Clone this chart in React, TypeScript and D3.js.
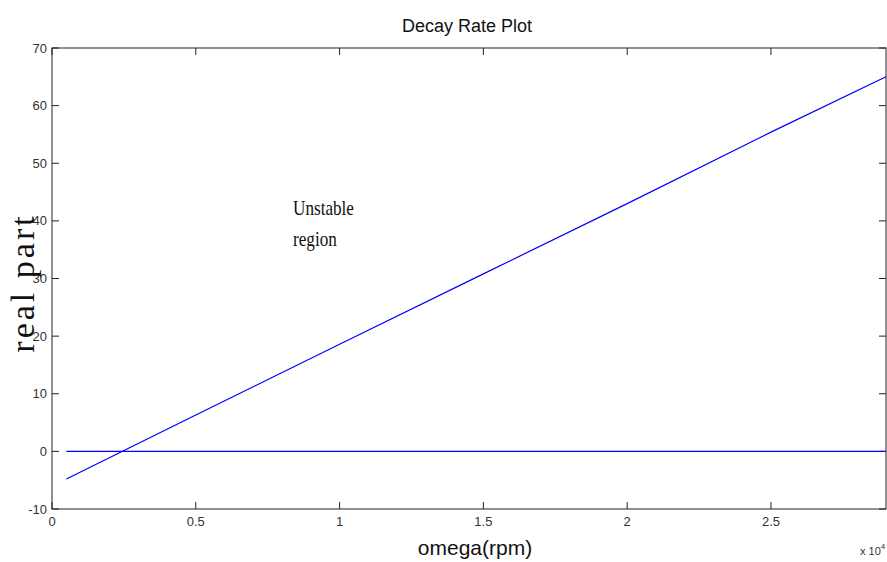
import React from "react";
import * as d3 from "d3";

const rpmValues = [500, 5000, 10000, 15000, 20000, 25000, 29000];
const realPart = [-4.8, 6.3, 18.6, 30.8, 43.0, 55.4, 65.0];
const zeroLineX = [500, 29000];
const zeroLineY = [0, 0];
const xTicks = [0, 0.5, 1, 1.5, 2, 2.5];
const yTicks = [-10, 0, 10, 20, 30, 40, 50, 60, 70];

const W = 887;
const H = 562;
const M = { left: 52, right: 886, top: 48, bottom: 509 };
const narrow = "'Liberation Sans Narrow', 'Arial Narrow', 'Liberation Sans', sans-serif";
const serif = "'Liberation Serif', 'Times New Roman', serif";

export default function App() {
  const x = d3.scaleLinear().domain([0, 2.9]).range([M.left, M.right]);
  const y = d3.scaleLinear().domain([-10, 70]).range([M.bottom, M.top]);
  const line = d3
    .line<[number, number]>()
    .x((d) => x(d[0] / 10000))
    .y((d) => y(d[1]));
  const mainPts = rpmValues.map((r, i) => [r, realPart[i]] as [number, number]);
  const zeroPts = zeroLineX.map((r, i) => [r, zeroLineY[i]] as [number, number]);
  const tl = 7;
  const axisColor = "#222";
  const textColor = "#333";
  return (
    <svg width={W} height={H} style={{ position: "absolute", left: 0, top: 0, background: "#fff" }}>
      <rect x={0} y={0} width={W} height={H} fill="#fff" />
      {xTicks.map((t) => (
        <g key={"x" + t}>
          <line x1={x(t)} x2={x(t)} y1={M.bottom} y2={M.bottom - tl} stroke={axisColor} />
          <line x1={x(t)} x2={x(t)} y1={M.top} y2={M.top + tl} stroke={axisColor} />
          <text x={x(t)} y={M.bottom + 17} textAnchor="middle" fontFamily={narrow} fontSize={13} fill={textColor}>
            {String(t)}
          </text>
        </g>
      ))}
      {yTicks.map((t) => (
        <g key={"y" + t}>
          <line x1={M.left} x2={M.left + tl} y1={y(t)} y2={y(t)} stroke={axisColor} />
          <line x1={M.right} x2={M.right - tl} y1={y(t)} y2={y(t)} stroke={axisColor} />
          <text x={M.left - 5} y={y(t) + 4.5} textAnchor="end" fontFamily={narrow} fontSize={13} fill={textColor}>
            {String(t)}
          </text>
        </g>
      ))}
      <rect
        x={M.left}
        y={M.top}
        width={M.right - M.left}
        height={M.bottom - M.top}
        fill="none"
        stroke={axisColor}
        strokeWidth={1}
      />
      <path d={line(zeroPts) || ""} fill="none" stroke="#0000ff" strokeWidth={1.2} />
      <path d={line(mainPts) || ""} fill="none" stroke="#0000ff" strokeWidth={1.2} />
      <text x={467} y={32} textAnchor="middle" fontFamily={narrow} fontSize={18} fill="#111">
        Decay Rate Plot
      </text>
      <text x={475} y={555} textAnchor="middle" fontFamily={narrow} fontSize={21} fill="#111">
        omega(rpm)
      </text>
      <text x={860} y={555} fontFamily={narrow} fontSize={11} fill={textColor}>
        x 10
        <tspan dy={-6} fontSize={8}>4</tspan>
      </text>
      <text
        transform={`translate(34,283) rotate(-90)`}
        textAnchor="middle"
        fontFamily={serif}
        fontSize={34}
        letterSpacing={3}
        fill="#111"
      >
        real part
      </text>
      <text transform="translate(293,215) scale(0.78,1)" fontFamily={serif} fontSize={22} fill="#111">
        Unstable
      </text>
      <text transform="translate(293,246) scale(0.78,1)" fontFamily={serif} fontSize={22} fill="#111">
        region
      </text>
    </svg>
  );
}
